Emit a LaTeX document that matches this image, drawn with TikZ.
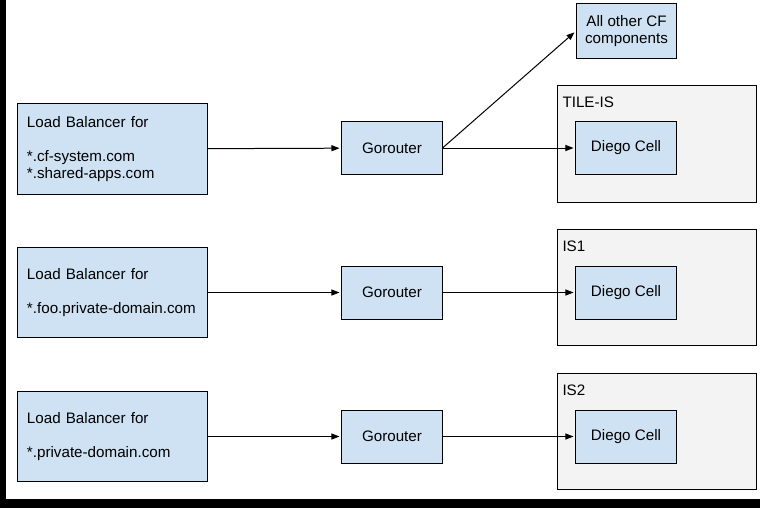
\documentclass[tikz,border=0pt]{standalone}
\usepackage{fontspec}
\setmainfont{Liberation Sans}
\usepackage{tikz}
\usetikzlibrary{arrows.meta,positioning}
\definecolor{boxblue}{RGB}{207,226,243}
\definecolor{zonegray}{RGB}{243,243,243}

\begin{document}
\begin{tikzpicture}[x=0.025cm, y=-0.025cm, line width=0.71pt,
  font=\fontsize{10.8}{12.1}\selectfont,
  comp/.style={draw, fill=boxblue, minimum width=2.5cm, minimum height=1.325cm, inner sep=0pt, align=center},
  lbbox/.style={draw, fill=boxblue, text width=4.4cm, inner xsep=0.1625cm, minimum height=2.25cm, align=left},
  zone/.style={draw, fill=zonegray, minimum width=4.95cm, minimum height=2.92cm},
  zonelbl/.style={anchor=base west, inner sep=0pt},
  fleche/.style={-{Triangle[length=0.2cm, width=0.15cm]}, shorten >=0.05cm}]
  \useasboundingbox (0,0) rectangle (760,508);
  % Bords noirs de la capture
  \fill[black] (0,0) rectangle (6,508);
  \fill[black] (0,499) rectangle (760,508);
  % Zones (isolation segments)
  \node[zone] (tile) at (657,144) {};
  \node[zone] (is1) at (657,287.5) {};
  \node[zone] (is2) at (657,431.5) {};
  \node[zonelbl] (tilelbl) at (562,107) {TILE-IS};
  \node[zonelbl] (is1lbl) at (562,251) {IS1};
  \node[zonelbl] (is2lbl) at (562,395) {IS2};
  % Load balancers (texte decale vers la droite)
  \node[lbbox] (lb1) at (112.5,149)
    {\hspace*{0.0625cm}Load Balancer for\\[0.425cm]\hspace*{0.0625cm}*.cf-system.com\\\hspace*{0.0625cm}*.shared-apps.com};
  \node[lbbox] (lb2) at (112.5,292.5)
    {\hspace*{0.0625cm}Load Balancer for\\[0.425cm]\hspace*{0.0625cm}*.foo.private-domain.com};
  \node[lbbox] (lb3) at (112.5,436.5)
    {\hspace*{0.0625cm}Load Balancer for\\[0.425cm]\hspace*{0.0625cm}*.private-domain.com};
  % Gorouters
  \node[comp] (gr1) at (392,148) {Gorouter};
  \node[comp] (gr2) at (392,292.5) {Gorouter};
  \node[comp] (gr3) at (392,436.5) {Gorouter};
  % Diego cells
  \node[comp] (cell1) at (626,148) {Diego Cell};
  \node[comp] (cell2) at (626,292.5) {Diego Cell};
  \node[comp] (cell3) at (626,436.5) {Diego Cell};
  \node[comp, minimum height=1.35cm] (other) at (626.5,31) {All other CF\\components};
  % Connexions
  \foreach \i in {1,2,3} {
    \draw[fleche] (lb\i) -- (gr\i);
    \draw[fleche] (gr\i) -- (cell\i);
  }
  \draw[fleche] (gr1.east) -- (other.west);
\end{tikzpicture}
\end{document}
